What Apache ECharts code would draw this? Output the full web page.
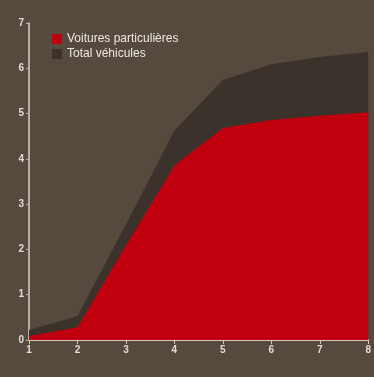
<!DOCTYPE html>
<html>
<head>
<meta charset="utf-8">
<script src="https://cdn.jsdelivr.net/npm/echarts@6/dist/echarts.min.js"></script>
<style>
  html, body { margin: 0; padding: 0; background: #564a3f; }
  #chart { width: 374px; height: 377px; }
</style>
</head>
<body>
<div id="chart"></div>
<script>
const categories = ['1', '2', '3', '4', '5', '6', '7', '8']
const voitures = [0.09, 0.28, 2.1, 3.86, 4.68, 4.86, 4.95, 5.03]
const totalVehicules = [0.22, 0.53, 2.55, 4.62, 5.74, 6.09, 6.25, 6.36]
const yTicks = [0, 1, 2, 3, 4, 5, 6, 7]

const chart = echarts.init(document.getElementById('chart'))

const axisText = {
  color: '#e2dcd4',
  fontSize: 10,
  fontWeight: 'bold',
  fontFamily: 'Liberation Sans, Arial, sans-serif'
}

chart.setOption({
  backgroundColor: '#564a3f',
  animation: false,
  grid: { left: 29, right: 5, top: 23, bottom: 37 },
  legend: {
    left: 47,
    top: 28,
    orient: 'vertical',
    itemWidth: 10,
    itemHeight: 10,
    itemGap: 3,
    data: [
      { name: 'Voitures particulières', icon: 'rect' },
      { name: 'Total véhicules', icon: 'rect' }
    ],
    textStyle: {
      color: '#ece8e2',
      fontSize: 12,
      fontFamily: 'Liberation Sans, Arial, sans-serif'
    }
  },
  xAxis: {
    type: 'category',
    data: categories,
    boundaryGap: false,
    axisLine: { lineStyle: { color: '#d0c8c0', width: 2 } },
    axisTick: { show: true, length: 4, lineStyle: { color: '#d0c8c0' } },
    axisLabel: { ...axisText, margin: 5 },
    splitLine: { show: false }
  },
  yAxis: {
    type: 'value',
    min: yTicks[0],
    max: yTicks[yTicks.length - 1],
    interval: 1,
    axisLine: { show: true, lineStyle: { color: '#b8aea4', width: 2 } },
    axisTick: { show: true, length: 3, lineStyle: { color: '#b8aea4' } },
    axisLabel: { ...axisText, margin: 5 },
    splitLine: { show: false }
  },
  series: [
    {
      name: 'Total véhicules',
      type: 'line',
      data: totalVehicules,
      symbol: 'none',
      itemStyle: { color: '#3a322b' },
      lineStyle: { width: 0 },
      areaStyle: { color: '#3a322b', opacity: 1 },
      z: 1
    },
    {
      name: 'Voitures particulières',
      type: 'line',
      data: voitures,
      symbol: 'none',
      itemStyle: { color: '#c0000e' },
      lineStyle: { width: 0 },
      areaStyle: { color: '#c0000e', opacity: 1 },
      z: 2
    }
  ]
})
</script>
</body>
</html>
